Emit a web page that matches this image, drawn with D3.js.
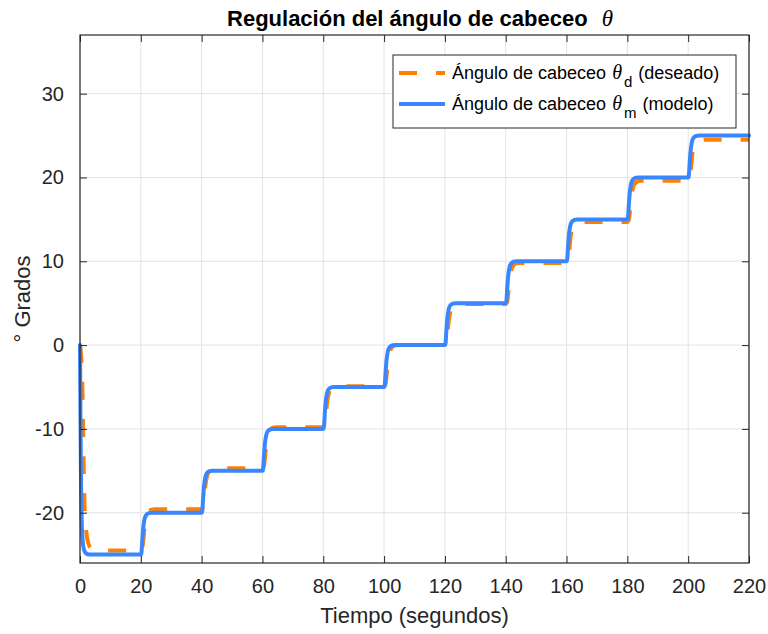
<!DOCTYPE html>
<html>
<head>
<meta charset="utf-8">
<script src="https://cdn.jsdelivr.net/npm/d3@7"></script>
<style>
  html, body { margin: 0; padding: 0; background: #ffffff; }
  svg { display: block; }
</style>
</head>
<body>
<svg id="chart" width="768" height="634"></svg>
<script>
// Axis ticks
const xTicks = [0, 20, 40, 60, 80, 100, 120, 140, 160, 180, 200, 220];
const yTicks = [-20, -10, 0, 10, 20, 30];

// Desired pitch angle θd (time in s, angle in degrees)
const desiredSeries = [
  [0, 0], [0.5, -2], [0.9, -7], [1.2, -14], [1.5, -19], [2, -22], [2.8, -23.7], [3.8, -24.3], [5, -24.5],
  [20, -24.5], [20.5, -24.2], [20.9, -23.0], [21.3, -21.5], [21.8, -20.5], [22.5, -19.9], [23.5, -19.65], [24.5, -19.6],
  [40, -19.6], [40.5, -19.3], [40.9, -18.1], [41.3, -16.6], [41.8, -15.6], [42.5, -15.0], [43.5, -14.75], [44.5, -14.7],
  [60, -14.7], [60.5, -14.4], [60.9, -13.2], [61.3, -11.7], [61.8, -10.7], [62.5, -10.1], [63.5, -9.85], [64.5, -9.8],
  [80, -9.8], [80.5, -9.5], [80.9, -8.3], [81.3, -6.8], [81.8, -5.8], [82.5, -5.2], [83.5, -4.95], [84.5, -4.9],
  [100, -4.9], [100.5, -4.6], [100.9, -3.4], [101.3, -1.9], [101.8, -0.9], [102.5, -0.3], [103.5, -0.05], [104.5, 0],
  [120, 0], [120.5, 0.3], [120.9, 1.5], [121.3, 3.0], [121.8, 4.0], [122.5, 4.6], [123.5, 4.85], [124.5, 4.9],
  [140, 4.9], [140.5, 5.2], [140.9, 6.4], [141.3, 7.9], [141.8, 8.9], [142.5, 9.5], [143.5, 9.75], [144.5, 9.8],
  [160, 9.8], [160.5, 10.1], [160.9, 11.3], [161.3, 12.8], [161.8, 13.8], [162.5, 14.4], [163.5, 14.65], [164.5, 14.7],
  [180, 14.7], [180.5, 15.0], [180.9, 16.2], [181.3, 17.7], [181.8, 18.7], [182.5, 19.3], [183.5, 19.55], [184.5, 19.6],
  [200, 19.6], [200.5, 19.9], [200.9, 21.1], [201.3, 22.6], [201.8, 23.6], [202.5, 24.2], [203.5, 24.45], [204.5, 24.5],
  [220, 24.5]
];

// Model pitch angle θm (time in s, angle in degrees)
const modelSeries = [
  [0, 0], [0.15, -8], [0.3, -15], [0.5, -20], [0.8, -23], [1.3, -24.4], [2, -24.85], [3, -25],
  [20, -25], [20.2, -24.8], [20.5, -23.2], [20.8, -21.8], [21.2, -20.8], [21.8, -20.25], [22.6, -20.05], [23.5, -20],
  [40, -20], [40.2, -19.8], [40.5, -18.2], [40.8, -16.8], [41.2, -15.8], [41.8, -15.25], [42.6, -15.05], [43.5, -15],
  [60, -15], [60.2, -14.8], [60.5, -13.2], [60.8, -11.8], [61.2, -10.8], [61.8, -10.25], [62.6, -10.05], [63.5, -10],
  [80, -10], [80.2, -9.8], [80.5, -8.2], [80.8, -6.8], [81.2, -5.8], [81.8, -5.25], [82.6, -5.05], [83.5, -5],
  [100, -5], [100.2, -4.8], [100.5, -3.2], [100.8, -1.8], [101.2, -0.8], [101.8, -0.25], [102.6, -0.05], [103.5, 0],
  [120, 0], [120.2, 0.2], [120.5, 1.8], [120.8, 3.2], [121.2, 4.2], [121.8, 4.75], [122.6, 4.95], [123.5, 5],
  [140, 5], [140.2, 5.2], [140.5, 6.8], [140.8, 8.2], [141.2, 9.2], [141.8, 9.75], [142.6, 9.95], [143.5, 10],
  [160, 10], [160.2, 10.2], [160.5, 11.8], [160.8, 13.2], [161.2, 14.2], [161.8, 14.75], [162.6, 14.95], [163.5, 15],
  [180, 15], [180.2, 15.2], [180.5, 16.8], [180.8, 18.2], [181.2, 19.2], [181.8, 19.75], [182.6, 19.95], [183.5, 20],
  [200, 20], [200.2, 20.2], [200.5, 21.8], [200.8, 23.2], [201.2, 24.2], [201.8, 24.75], [202.6, 24.95], [203.5, 25],
  [220, 25]
];

const FONT = "'Liberation Sans', Arial, Helvetica, sans-serif";
const SERIF = "'Liberation Serif', 'Times New Roman', 'DejaVu Serif', serif";
const AXIS_COLOR = "#262626";
const GRID_COLOR = "#e3e3e3";
const ORANGE = "#ff8000";
const BLUE = "#3a86ff";
const DASH = "18,19";

const svg = d3.select("#chart");
const plotLeft = 80, plotRight = 749, plotTop = 35, plotBottom = 563;

const x = d3.scaleLinear().domain([0, 220]).range([plotLeft, plotRight]);
const y = d3.scaleLinear().domain([-26, 37]).range([plotBottom, plotTop]);

// grid
const grid = svg.append("g");
grid.selectAll("line.gx").data(xTicks).join("line")
  .attr("class", "gx")
  .attr("x1", d => x(d)).attr("x2", d => x(d))
  .attr("y1", plotTop).attr("y2", plotBottom)
  .attr("stroke", GRID_COLOR).attr("stroke-width", 1);
grid.selectAll("line.gy").data(yTicks).join("line")
  .attr("class", "gy")
  .attr("y1", d => y(d)).attr("y2", d => y(d))
  .attr("x1", plotLeft).attr("x2", plotRight)
  .attr("stroke", GRID_COLOR).attr("stroke-width", 1);

// series
const line = d3.line()
  .x(d => x(d[0]))
  .y(d => y(d[1]))
  .curve(d3.curveMonotoneX);

svg.append("path")
  .datum(desiredSeries)
  .attr("d", line)
  .attr("fill", "none")
  .attr("stroke", ORANGE)
  .attr("stroke-width", 4)
  .attr("stroke-dasharray", DASH)
  .attr("stroke-linejoin", "round");

svg.append("path")
  .datum(modelSeries)
  .attr("d", line)
  .attr("fill", "none")
  .attr("stroke", BLUE)
  .attr("stroke-width", 4)
  .attr("stroke-linejoin", "round")
  .attr("stroke-linecap", "round");

// axes (box with inward ticks on all sides)
const tickLen = 7;
const plainNumber = d => String(d);
const axisBottom = d3.axisBottom(x).tickValues(xTicks).tickSizeInner(-tickLen).tickSizeOuter(0).tickPadding(16)
  .tickFormat(plainNumber);
const axisLeft = d3.axisLeft(y).tickValues(yTicks).tickSizeInner(-tickLen).tickSizeOuter(0).tickPadding(16)
  .tickFormat(plainNumber);
const axisTop = d3.axisTop(x).tickValues(xTicks).tickSizeInner(-tickLen).tickSizeOuter(0).tickFormat("");
const axisRight = d3.axisRight(y).tickValues(yTicks).tickSizeInner(-tickLen).tickSizeOuter(0).tickFormat("");

function styleAxis(g) {
  g.select(".domain").remove();
  g.selectAll(".tick line").attr("stroke", AXIS_COLOR).attr("stroke-width", 1);
  g.selectAll(".tick text").attr("fill", AXIS_COLOR).attr("font-family", FONT).attr("font-size", 20);
}

svg.append("g").attr("transform", `translate(0,${plotBottom})`).call(axisBottom).call(styleAxis);
svg.append("g").attr("transform", `translate(${plotLeft},0)`).call(axisLeft).call(styleAxis);
svg.append("g").attr("transform", `translate(0,${plotTop})`).call(axisTop).call(styleAxis);
svg.append("g").attr("transform", `translate(${plotRight},0)`).call(axisRight).call(styleAxis);

svg.append("rect")
  .attr("x", plotLeft).attr("y", plotTop)
  .attr("width", plotRight - plotLeft).attr("height", plotBottom - plotTop)
  .attr("fill", "none").attr("stroke", AXIS_COLOR).attr("stroke-width", 1.2);

// title
const title = svg.append("text")
  .attr("x", 420).attr("y", 26)
  .attr("text-anchor", "middle")
  .attr("font-family", FONT).attr("font-size", 22).attr("font-weight", "bold")
  .attr("fill", "#000");
title.append("tspan").text("Regulación del ángulo de cabeceo");
title.append("tspan").attr("dx", 14).attr("font-family", SERIF).attr("font-style", "italic")
  .attr("font-weight", "normal").attr("font-size", 23).text("θ");

// axis labels
svg.append("text")
  .attr("x", (plotLeft + plotRight) / 2).attr("y", 623)
  .attr("text-anchor", "middle")
  .attr("font-family", FONT).attr("font-size", 22).attr("fill", AXIS_COLOR)
  .text("Tiempo (segundos)");

svg.append("text")
  .attr("transform", `translate(30,${(plotTop + plotBottom) / 2}) rotate(-90)`)
  .attr("text-anchor", "middle")
  .attr("font-family", FONT).attr("font-size", 22).attr("fill", AXIS_COLOR)
  .text("° Grados");

// legend
const legendItems = [
  { color: ORANGE, dash: DASH, sub: "d", note: "(deseado)" },
  { color: BLUE, dash: null, sub: "m", note: "(modelo)" }
];
const lg = svg.append("g");
lg.append("rect")
  .attr("x", 393).attr("y", 55).attr("width", 343).attr("height", 73)
  .attr("fill", "#fff").attr("stroke", AXIS_COLOR).attr("stroke-width", 1);

const rows = lg.selectAll("g.row").data(legendItems).join("g")
  .attr("class", "row")
  .attr("transform", (d, i) => `translate(0,${73 + i * 31})`);
rows.append("line")
  .attr("x1", 399).attr("x2", 445).attr("y1", 0).attr("y2", 0)
  .attr("stroke", d => d.color).attr("stroke-width", 4)
  .attr("stroke-dasharray", d => d.dash);
const lt = rows.append("text")
  .attr("x", 452).attr("y", 6)
  .attr("font-family", FONT).attr("font-size", 18).attr("fill", "#000");
lt.append("tspan").text("Ángulo de cabeceo");
lt.append("tspan").attr("dx", 6).attr("font-family", SERIF).attr("font-style", "italic").attr("font-size", 20).text("θ");
lt.append("tspan").attr("dx", 2).attr("dy", 8).attr("font-size", 15).text(d => d.sub);
lt.append("tspan").attr("dx", 6).attr("dy", -8).text(d => d.note);
</script>
</body>
</html>
